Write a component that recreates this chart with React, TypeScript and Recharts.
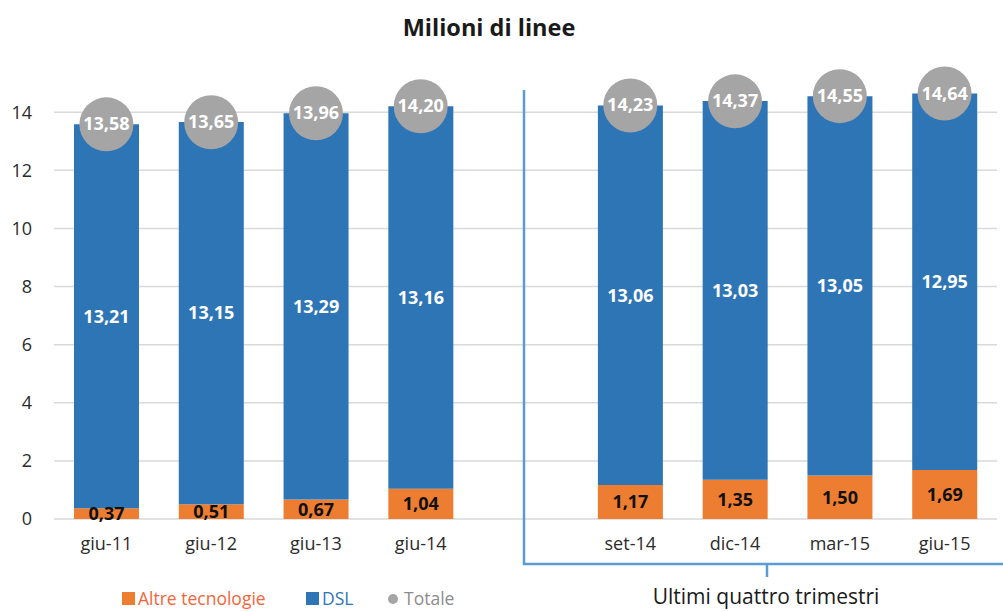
import React from "react";
import {
  ComposedChart,
  Bar,
  Scatter,
  XAxis,
  YAxis,
  CartesianGrid,
  LabelList,
} from "recharts";

const categories = [
  "giu-11",
  "giu-12",
  "giu-13",
  "giu-14",
  "",
  "set-14",
  "dic-14",
  "mar-15",
  "giu-15",
];
const altreTecnologie = [0.37, 0.51, 0.67, 1.04, null, 1.17, 1.35, 1.5, 1.69];
const dsl = [13.21, 13.15, 13.29, 13.16, null, 13.06, 13.03, 13.05, 12.95];
const totale = [13.58, 13.65, 13.96, 14.2, null, 14.23, 14.37, 14.55, 14.64];
const yTicks = [0, 2, 4, 6, 8, 10, 12, 14];

const ORANGE = "#ED7D31";
const BLUE = "#2E75B6";
const GRAY = "#A5A5A5";
const FONT = "'Open Sans', sans-serif";

const data = categories.map((name, i) => ({
  name,
  altre: altreTecnologie[i],
  dsl: dsl[i],
  totale: totale[i],
}));

const fmt = (v: unknown) =>
  v == null ? "" : Number(v).toFixed(2).replace(".", ",");

const TotaleDot = (props: any) => {
  const { cx, cy, payload } = props;
  if (payload == null || payload.totale == null) return null;
  return (
    <g>
      <circle cx={cx} cy={cy} r={27} fill={GRAY} />
      <text
        x={cx}
        y={cy}
        dy={6}
        textAnchor="middle"
        fill="#fff"
        fontSize={18}
        fontWeight={700}
        fontFamily={FONT}
      >
        {fmt(payload.totale)}
      </text>
    </g>
  );
};

export default function App() {
  return (
    <div
      style={{
        position: "absolute",
        left: 0,
        top: 0,
        width: 1003,
        height: 611,
        background: "#fff",
        fontFamily: FONT,
        overflow: "hidden",
      }}
    >
      <div
        style={{
          position: "absolute",
          top: 11,
          left: 489,
          transform: "translateX(-50%)",
          fontSize: 23.5,
          fontWeight: 700,
          color: "#1a1a1a",
          whiteSpace: "nowrap",
        }}
      >
        Milioni di linee
      </div>

      <ComposedChart
        width={1003}
        height={611}
        data={data}
        margin={{ top: 54, right: 6, bottom: 62, left: 0 }}
      >
        <CartesianGrid
          vertical={false}
          horizontalValues={yTicks}
          stroke="#d9d9d9"
          strokeWidth={1.5}
        />
        <XAxis
          dataKey="name"
          axisLine={false}
          tickLine={false}
          height={30}
          interval={0}
          tick={{ fill: "#2b2b2b", fontSize: 18, fontFamily: FONT }}
          tickMargin={12}
        />
        <YAxis
          domain={[0, 16]}
          ticks={yTicks}
          width={54}
          axisLine={false}
          tickLine={false}
          tick={{ fill: "#2b2b2b", fontSize: 18, fontFamily: FONT }}
          tickMargin={16}
        />
        <Bar
          dataKey="altre"
          stackId="a"
          fill={ORANGE}
          barSize={65}
          isAnimationActive={false}
        >
          <LabelList
            dataKey="altre"
            position="center"
            formatter={fmt}
            fill="#111"
            fontSize={18}
            fontWeight={700}
            fontFamily={FONT}
          />
        </Bar>
        <Bar
          dataKey="dsl"
          stackId="a"
          fill={BLUE}
          barSize={65}
          isAnimationActive={false}
        >
          <LabelList
            dataKey="dsl"
            position="center"
            formatter={fmt}
            fill="#fff"
            fontSize={18}
            fontWeight={700}
            fontFamily={FONT}
          />
        </Bar>
        <Scatter
          dataKey="totale"
          shape={TotaleDot}
          isAnimationActive={false}
        />
      </ComposedChart>

      <svg
        width={1003}
        height={611}
        style={{ position: "absolute", left: 0, top: 0, pointerEvents: "none" }}
      >
        <polyline
          points="524,90 524,564 1003,564"
          fill="none"
          stroke="#5B9BD5"
          strokeWidth={2.5}
        />
        <line x1={767} y1={564} x2={767} y2={577} stroke="#5B9BD5" strokeWidth={2.5} />
      </svg>

      <div
        style={{
          position: "absolute",
          top: 585,
          left: 766,
          transform: "translateX(-50%)",
          fontSize: 21,
          lineHeight: "22px",
          color: "#1a1a1a",
          whiteSpace: "nowrap",
        }}
      >
        Ultimi quattro trimestri
      </div>

      <div style={{ position: "absolute", top: 592, left: 122, width: 13, height: 13, background: ORANGE }} />
      <div style={{ position: "absolute", top: 586, left: 138, fontSize: 17.5, color: "#F4653A", whiteSpace: "nowrap" }}>
        Altre tecnologie
      </div>
      <div style={{ position: "absolute", top: 592, left: 306, width: 13, height: 13, background: BLUE }} />
      <div style={{ position: "absolute", top: 586, left: 322, fontSize: 17.5, color: BLUE, whiteSpace: "nowrap" }}>
        DSL
      </div>
      <div style={{ position: "absolute", top: 594, left: 388, width: 10, height: 10, borderRadius: 5, background: GRAY }} />
      <div style={{ position: "absolute", top: 586, left: 404, fontSize: 17.5, color: "#8c8c8c", whiteSpace: "nowrap" }}>
        Totale
      </div>
    </div>
  );
}
